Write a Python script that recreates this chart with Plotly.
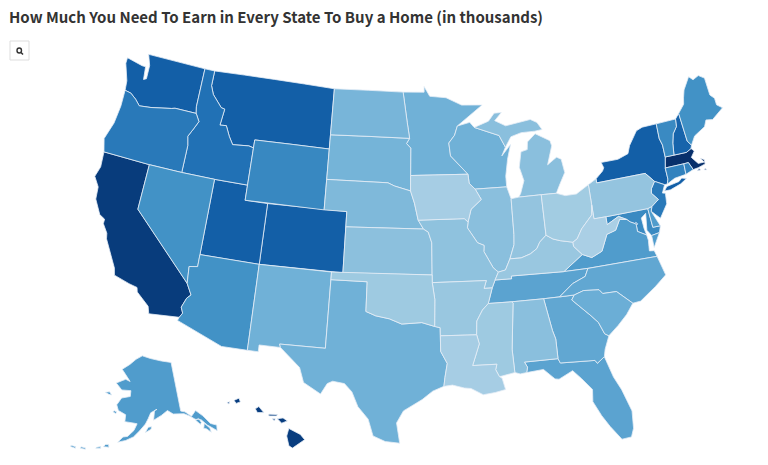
import plotly.graph_objects as go

title_text = "<b>How Much You Need To Earn in Every State To Buy a Home (in thousands)</b>"

# estimated from the fill colours of the picture
states = ["MA", "CA", "HI", "WA", "MT", "NY", "CO", "UT", "NH", "ID", "OR", "NJ", "CT", "RI", "DC",
          "WY", "VT", "MD", "NV", "AZ", "ME", "VA", "AK", "DE", "TN", "FL", "GA", "NC", "SC", "NM",
          "TX", "MN", "WI", "SD", "ND", "NE", "MI", "IL", "AL", "KS", "MO", "PA", "IN", "KY", "AR",
          "MS", "OK", "OH", "LA", "IA", "WV"]
income = [180, 173, 172, 151, 151, 151, 151, 151, 148, 140, 135, 135, 130, 130, 130,
          126, 125, 125, 120, 120, 120, 113, 113, 113, 108, 108, 105, 105, 100, 98,
          98, 98, 98, 96, 95, 92, 88, 88, 88, 87, 86, 84, 84, 82, 82,
          80, 80, 78, 76, 76, 74]

# simplified state outlines, lon/lat rings. plotly's usa topojson comes from a cdn
# and there is no network here, so the map has to bring its own geometry
outlines = {
    "WA": [[(-124.7,48.38),(-123.1,48.15),(-122.75,48.15),(-122.6,47.3),(-122.35,47.4),(-122.4,48.3),(-122.8,49),(-117.04,49),(-117.04,46.42),(-116.92,45.99),(-118.98,46),(-119.3,45.93),(-121.2,45.65),(-122.3,45.55),(-122.8,45.9),(-123.4,46.2),(-124,46.27),(-124.1,46.9),(-124.7,48)]],
    "OR": [[(-124,46.27),(-123.4,46.2),(-122.8,45.9),(-122.3,45.55),(-121.2,45.65),(-119.3,45.93),(-118.98,46),(-116.92,45.99),(-116.5,45.5),(-116.85,44.95),(-117.22,44.4),(-117.03,43.8),(-117.03,42),(-120,42),(-124.21,42),(-124.55,42.84),(-124.1,44),(-123.95,45.2)]],
    "CA": [[(-124.21,42),(-120,42),(-120,39),(-114.63,35),(-114.14,34.3),(-114.43,34.05),(-114.72,33.4),(-114.52,33.03),(-114.72,32.72),(-117.12,32.53),(-117.3,33),(-118.4,33.75),(-118.5,34.03),(-119.2,34.15),(-120.5,34.45),(-120.65,34.9),(-121.9,36.6),(-122,36.96),(-122.5,37.5),(-122.5,37.8),(-123,38),(-123.7,38.9),(-123.8,39.7),(-124.35,40.3),(-124.1,41)]],
    "NV": [[(-120,42),(-117.03,42),(-114.04,42),(-114.05,36.2),(-114.74,36.1),(-114.63,35),(-120,39)]],
    "ID": [[(-117.04,49),(-116.05,49),(-116.05,48),(-115.7,47.45),(-114.7,46.7),(-114.35,46.65),(-114.5,45.56),(-113.9,45.6),(-113.45,44.95),(-113,44.45),(-111.5,44.55),(-111.05,44.47),(-111.05,42),(-114.04,42),(-117.03,42),(-117.03,43.8),(-117.22,44.4),(-116.85,44.95),(-116.5,45.5),(-116.92,45.99),(-117.04,46.42)]],
    "MT": [[(-116.05,49),(-104.05,49),(-104.05,45),(-111.05,45),(-111.05,44.47),(-111.5,44.55),(-113,44.45),(-113.45,44.95),(-113.9,45.6),(-114.5,45.56),(-114.35,46.65),(-114.7,46.7),(-115.7,47.45),(-116.05,48)]],
    "WY": [[(-111.05,45),(-104.05,45),(-104.05,41),(-111.05,41)]],
    "UT": [[(-114.04,42),(-111.05,42),(-111.05,41),(-109.05,41),(-109.05,37),(-114.05,37)]],
    "CO": [[(-109.05,41),(-102.05,41),(-102.05,37),(-109.05,37)]],
    "AZ": [[(-114.05,37),(-109.05,37),(-109.05,31.33),(-111.07,31.33),(-114.81,32.5),(-114.72,32.72),(-114.52,33.03),(-114.72,33.4),(-114.43,34.05),(-114.14,34.3),(-114.63,35),(-114.74,36.1),(-114.05,36.2)]],
    "NM": [[(-109.05,37),(-103,37),(-103.04,32),(-106.62,32),(-106.53,31.78),(-108.2,31.78),(-108.2,31.33),(-109.05,31.33)]],
    "ND": [[(-104.05,49),(-97.23,49),(-96.8,47),(-96.56,45.94),(-104.05,45.94)]],
    "SD": [[(-104.05,45.94),(-96.56,45.94),(-96.85,45.6),(-96.45,45.3),(-96.45,43.5),(-96.45,42.49),(-97.9,42.8),(-98.5,43),(-104.05,43)]],
    "NE": [[(-104.05,43),(-98.5,43),(-97.9,42.8),(-96.45,42.49),(-96.1,41.7),(-95.77,40.58),(-95.31,40),(-102.05,40),(-102.05,41),(-104.05,41)]],
    "KS": [[(-102.05,40),(-95.31,40),(-94.9,39.8),(-94.61,39.1),(-94.62,37),(-102.05,37)]],
    "OK": [[(-103,37),(-94.62,37),(-94.62,36.5),(-94.43,35.4),(-94.48,33.64),(-95.5,33.9),(-97.1,33.8),(-98.1,34.13),(-99.2,34.3),(-100,34.56),(-100,36.5),(-103,36.5)]],
    "TX": [[(-106.62,32),(-103.04,32),(-103,36.5),(-100,36.5),(-100,34.56),(-99.2,34.3),(-98.1,34.13),(-97.1,33.8),(-95.5,33.9),(-94.48,33.64),(-94.04,33.55),(-94.04,33.02),(-94.04,32),(-93.55,31.2),(-93.75,30.3),(-93.85,29.7),(-94.7,29.4),(-95.5,28.85),(-96.9,28.1),(-97.4,27.3),(-97.15,25.96),(-98.2,26.05),(-99.1,26.4),(-99.5,27.5),(-100.3,28.3),(-100.8,29.25),(-101.4,29.77),(-102.3,29.88),(-102.7,29.7),(-103.15,28.98),(-104.5,29.65),(-104.9,30.6),(-106.53,31.78)]],
    "MN": [[(-97.23,49),(-95.15,49),(-95.15,49.38),(-94.6,48.72),(-93,48.6),(-91.5,48.07),(-89.5,48),(-92,46.7),(-92.3,46.1),(-92.87,45.6),(-92.75,44.75),(-91.22,43.5),(-96.45,43.5),(-96.45,45.3),(-96.85,45.6),(-96.56,45.94),(-96.8,47)]],
    "IA": [[(-96.45,43.5),(-91.22,43.5),(-91.15,42.9),(-90.64,42.5),(-90.15,41.8),(-91.1,41.2),(-91.42,40.38),(-91.73,40.61),(-95.77,40.58),(-96.1,41.7),(-96.45,42.49)]],
    "MO": [[(-95.77,40.58),(-91.73,40.61),(-91.42,40.38),(-91.5,40),(-90.7,39),(-90.15,38.8),(-90.2,38.4),(-89.5,37.3),(-89.1,37),(-89.42,36.5),(-89.7,36),(-90.37,36),(-90.15,36.5),(-94.62,36.5),(-94.62,37),(-94.61,39.1),(-94.9,39.8),(-95.31,40)]],
    "AR": [[(-94.62,36.5),(-90.15,36.5),(-90.37,36),(-89.7,36),(-90.1,35),(-90.6,34.6),(-91.1,33.9),(-91.17,33),(-94.04,33.02),(-94.04,33.55),(-94.48,33.64),(-94.43,35.4)]],
    "LA": [[(-94.04,33.02),(-91.17,33),(-91,32.4),(-91.6,31),(-89.73,31),(-89.85,30.65),(-89.6,30.18),(-89.4,30.05),(-89.2,29.3),(-90,29.15),(-90.9,29.05),(-91.8,29.5),(-92.3,29.55),(-93.2,29.77),(-93.85,29.7),(-93.75,30.3),(-93.55,31.2),(-94.04,32)]],
    "MS": [[(-90.1,35),(-88.2,35),(-88.1,34.9),(-88.47,31.9),(-88.4,30.37),(-89.4,30.2),(-89.6,30.18),(-89.85,30.65),(-89.73,31),(-91.6,31),(-91,32.4),(-91.17,33),(-91.1,33.9),(-90.6,34.6)]],
    "AL": [[(-88.2,35),(-85.6,35),(-85.18,32.87),(-85,32.3),(-85,31),(-87.6,31),(-87.4,30.65),(-87.5,30.3),(-88,30.25),(-88.4,30.37),(-88.47,31.9),(-88.1,34.9)]],
    "TN": [[(-89.7,36),(-89.42,36.5),(-88.05,36.5),(-88.05,36.68),(-83.68,36.6),(-81.68,36.59),(-82,36.1),(-83.1,35.75),(-84.3,35),(-85.6,35),(-88.2,35),(-90.1,35)]],
    "KY": [[(-89.42,36.5),(-89.1,37),(-88.5,37.1),(-88.05,37.8),(-87.1,37.8),(-86.3,38),(-85.7,38.3),(-85.4,38.7),(-84.8,39.1),(-84.25,38.8),(-83.65,38.63),(-82.6,38.42),(-82.6,38.15),(-81.97,37.54),(-83.68,36.6),(-88.05,36.68),(-88.05,36.5)]],
    "IL": [[(-90.64,42.5),(-87.8,42.5),(-87.5,41.7),(-87.53,39.35),(-87.6,38.7),(-88.05,37.8),(-88.5,37.1),(-89.1,37),(-89.5,37.3),(-90.2,38.4),(-90.15,38.8),(-90.7,39),(-91.5,40),(-91.42,40.38),(-91.1,41.2),(-90.15,41.8)]],
    "IN": [[(-87.5,41.7),(-86.8,41.76),(-84.8,41.76),(-84.8,39.1),(-85.4,38.7),(-85.7,38.3),(-86.3,38),(-87.1,37.8),(-88.05,37.8),(-87.6,38.7),(-87.53,39.35)]],
    "OH": [[(-84.8,41.76),(-83.45,41.73),(-82.7,41.5),(-81.7,41.5),(-80.52,41.98),(-80.52,40.64),(-80.65,40),(-81.7,39.2),(-82.2,38.6),(-82.6,38.42),(-83.65,38.63),(-84.25,38.8),(-84.8,39.1)]],
    "WI": [[(-92,46.7),(-90.8,46.9),(-90.4,46.55),(-88.1,45.9),(-87.6,45.1),(-88,44.55),(-87.1,45.25),(-87.5,44.3),(-87.8,43.2),(-87.8,42.5),(-90.64,42.5),(-91.15,42.9),(-91.22,43.5),(-92.75,44.75),(-92.87,45.6),(-92.3,46.1)]],
    "MI": [[(-86.8,41.76),(-84.8,41.76),(-83.45,41.73),(-83.1,42.2),(-82.45,43),(-82.6,43.9),(-83,44.07),(-83.9,43.65),(-83.3,44.85),(-83.4,45.2),(-84.7,45.78),(-85.5,45.3),(-85.6,44.8),(-86.2,44.7),(-86.5,43.7),(-86.2,42.8),(-86.6,42)],
           [(-90.4,46.55),(-89,46.9),(-88.4,47.4),(-87.7,47.4),(-88.4,46.9),(-87.4,46.5),(-85,46.75),(-84.4,46.5),(-84,46),(-84.7,45.95),(-86,45.95),(-87,45.75),(-87.6,45.1),(-88.1,45.9)]],
    "PA": [[(-80.52,41.98),(-79.76,42.27),(-79.76,42),(-75.35,42),(-74.7,41.36),(-75.1,40.95),(-75.2,40.65),(-74.72,40.15),(-75.4,39.8),(-75.79,39.72),(-79.48,39.72),(-80.52,39.72),(-80.52,40.64)]],
    "NY": [[(-79.76,42.27),(-79.06,42.7),(-78.9,42.9),(-79.05,43.27),(-77.5,43.27),(-76.5,43.5),(-76.2,44),(-75.3,44.85),(-74.7,45),(-73.35,45),(-73.4,44),(-73.25,43.55),(-73.27,42.75),(-73.5,42.05),(-73.5,41.3),(-73.65,41),(-73.9,41),(-74.7,41.36),(-75.35,42),(-79.76,42)],
           [(-74.03,40.6),(-73.75,40.85),(-72.6,40.98),(-72.3,41.15),(-71.9,41.05),(-72.5,40.8),(-73.5,40.58)]],
    "VT": [[(-73.35,45),(-71.5,45),(-71.6,44.5),(-72.05,44.1),(-72.3,43.5),(-72.46,42.73),(-73.27,42.75),(-73.25,43.55),(-73.4,44)]],
    "NH": [[(-71.5,45),(-71.08,45.3),(-70.98,43.4),(-70.7,43.07),(-70.82,42.87),(-71.3,42.7),(-72.46,42.73),(-72.3,43.5),(-72.05,44.1),(-71.6,44.5)]],
    "ME": [[(-71.08,45.3),(-70.4,45.8),(-70.25,46.2),(-70,46.7),(-69.23,47.46),(-68.9,47.18),(-68.3,47.35),(-67.8,47.07),(-67.78,45.9),(-67.45,45.6),(-67.45,45.15),(-67,44.85),(-68.2,44.3),(-68.8,44.4),(-69.1,44),(-70.2,43.6),(-70.7,43.07),(-70.98,43.4)]],
    "MA": [[(-73.5,42.05),(-73.27,42.75),(-72.46,42.73),(-71.3,42.7),(-70.82,42.87),(-70.6,42.65),(-71,42.3),(-70.55,41.8),(-70,41.78),(-70.25,42.07),(-69.95,41.95),(-69.97,41.65),(-70.65,41.53),(-71.12,41.5),(-71.38,42.02),(-71.8,42.02)],
           [(-70.8,41.36),(-70.5,41.35),(-70.6,41.47)],
           [(-70.2,41.3),(-69.97,41.25),(-70.05,41.38)]],
    "CT": [[(-73.5,42.05),(-71.8,42.02),(-71.85,41.32),(-72.9,41.25),(-73.65,41),(-73.5,41.3)]],
    "RI": [[(-71.8,42.02),(-71.38,42.02),(-71.12,41.5),(-71.85,41.32)]],
    "NJ": [[(-74.7,41.36),(-73.9,41),(-74.25,40.5),(-74,40.45),(-74.1,39.75),(-74.9,38.93),(-75.55,39.5),(-75.4,39.8),(-74.72,40.15),(-75.2,40.65),(-75.1,40.95)]],
    "DE": [[(-75.79,39.72),(-75.4,39.8),(-75.55,39.5),(-75.05,38.45),(-75.7,38.46)]],
    "MD": [[(-79.48,39.72),(-75.79,39.72),(-75.7,38.46),(-75.05,38.45),(-75.25,38.03),(-75.95,37.95),(-76.25,38.35),(-76.05,39.45),(-76.5,39.2),(-76.45,38.5),(-76.35,38.05),(-77.05,38.4),(-77.04,38.79),(-76.91,38.89),(-77.04,39),(-77.12,38.93),(-77.5,39.1),(-77.75,39.3),(-78.4,39.6),(-79.48,39.2)]],
    "DC": [[(-77.12,38.93),(-77.04,39),(-76.91,38.89),(-77.04,38.79),(-77.05,38.85)]],
    "VA": [[(-83.68,36.6),(-81.68,36.59),(-75.87,36.55),(-76,36.95),(-76.4,37),(-76.3,37.7),(-76.35,38.05),(-77.05,38.4),(-77.04,38.79),(-77.05,38.85),(-77.12,38.93),(-77.5,39.1),(-77.75,39.3),(-78.35,39.4),(-78.85,38.75),(-79.65,38.58),(-80.3,37.55),(-81.22,37.25),(-81.97,37.54)],
           [(-75.25,38.03),(-75.95,37.95),(-75.95,37.15),(-75.6,37.6)]],
    "WV": [[(-80.52,40.64),(-80.52,39.72),(-79.48,39.72),(-79.48,39.2),(-78.4,39.6),(-77.75,39.3),(-78.35,39.4),(-78.85,38.75),(-79.65,38.58),(-80.3,37.55),(-81.22,37.25),(-81.97,37.54),(-82.6,38.15),(-82.6,38.42),(-82.2,38.6),(-81.7,39.2),(-80.65,40)]],
    "NC": [[(-81.68,36.59),(-75.87,36.55),(-75.5,35.25),(-76.5,34.65),(-77.9,33.9),(-78.55,33.86),(-79.68,34.8),(-80.8,34.82),(-81.05,35.1),(-82.3,35.2),(-83.1,35),(-84.3,35),(-83.1,35.75),(-82,36.1)]],
    "SC": [[(-83.1,35),(-82.3,35.2),(-81.05,35.1),(-80.8,34.82),(-79.68,34.8),(-78.55,33.86),(-79.2,33.2),(-80,32.6),(-80.85,32.03),(-81.15,32.2),(-81.5,33),(-82,33.5),(-83.35,34.7)]],
    "GA": [[(-85.6,35),(-84.3,35),(-83.1,35),(-83.35,34.7),(-82,33.5),(-81.5,33),(-81.15,32.2),(-80.85,32.03),(-81.3,31.2),(-81.45,30.72),(-82.05,30.36),(-82.2,30.57),(-84.86,30.7),(-85,31),(-85,32.3),(-85.18,32.87)]],
    "FL": [[(-87.6,31),(-85,31),(-84.86,30.7),(-82.2,30.57),(-82.05,30.36),(-81.45,30.72),(-81,29.3),(-80.55,28.4),(-80.05,26.9),(-80.15,25.75),(-80.4,25.2),(-81.1,25.15),(-81.8,26.1),(-82.3,26.9),(-82.8,27.9),(-82.7,28.7),(-83.4,29.5),(-84,30.1),(-85.1,29.65),(-85.4,29.7),(-86.2,30.4),(-87.5,30.3),(-87.4,30.65)]],
    "AK": [[(-141,69.65),(-141,60.3),(-139.5,60),(-137.5,58.9),(-135.5,59.75),(-133.5,58.4),(-131.8,56.6),(-130,55.9),(-130.5,54.9),(-131.5,55.6),(-133,56.5),(-134.5,57.8),(-136.5,58.2),(-138,59),(-140,59.7),(-144,60),(-146,60.8),(-148.5,60),(-151.5,59.2),(-151,61),(-150,61.2),(-152.5,60.6),(-153.5,59.5),(-154.5,58.5),(-156.5,57.2),(-158.5,56),(-161,55.2),(-163.5,54.7),(-162,55.8),(-160.5,56),(-158.5,57.2),(-157.5,58.5),(-159,58.6),(-162,58.7),(-162,60),(-165,60.6),(-166,61.6),(-164.5,63),(-161,63.5),(-161,64.6),(-165,64.5),(-168,65.6),(-164,66.6),(-161.8,66.3),(-163.5,67.1),(-166.5,68.35),(-163,69.5),(-160,70.6),(-156.6,71.35),(-152,70.85),(-146,70.2)],
           [(-154.5,56.9),(-152.5,57.5),(-152.3,58),(-153.5,57.9)],
           [(-167,60.2),(-165.7,59.9),(-165.6,60.3),(-166.5,60.4)],
           [(-171.7,63.4),(-170,63.7),(-168.8,63.2),(-170,63.2)],
           [(-134.5,56.1),(-133.7,55.9),(-132.5,55),(-132.5,55.8),(-133.8,57)],
           [(-136.4,58),(-135.2,57),(-134.7,57.3),(-135.2,58.2)],
           [(-167.8,53.4),(-166,53.5),(-166.3,54),(-167.2,53.9)],
           [(-170,52.8),(-168.5,53),(-168.6,53.3),(-169.8,53)],
           [(-174.5,52),(-173,52.1),(-173,52.35),(-174.5,52.3)],
           [(-177.5,51.7),(-176,51.7),(-176,52),(-177.5,51.95)]],
    "HI": [[(-155.9,20.25),(-155.1,19.85),(-154.8,19.5),(-155.65,18.95),(-155.9,19.1),(-156.05,19.75)],
           [(-156.7,20.9),(-156.3,20.95),(-156,20.75),(-156.4,20.6)],
           [(-157.3,21.2),(-156.7,21.17),(-156.75,21.08),(-157.3,21.08)],
           [(-157.05,20.9),(-156.85,20.9),(-156.9,20.75)],
           [(-158.25,21.55),(-158,21.7),(-157.65,21.3),(-158.1,21.3)],
           [(-159.75,22.1),(-159.4,22.25),(-159.3,22),(-159.6,21.9)],
           [(-160.25,21.95),(-160.05,22),(-160.1,21.85)]],
}

# d3 wants the outer rings clockwise
def clockwise(ring):
    area = sum(a[0] * b[1] - b[0] * a[1] for a, b in zip(ring, ring[1:] + ring[:1]))
    ring = ring[::-1] if area > 0 else ring
    return [list(p) for p in ring + ring[:1]]

features = []
for code, rings in outlines.items():
    features.append({"type": "Feature", "id": code,
                     "geometry": {"type": "MultiPolygon", "coordinates": [[clockwise(r)] for r in rings]}})
geojson = {"type": "FeatureCollection", "features": features}

# the plot runs past the window on purpose, the map needs the room
W, H = 800, 500
BODY = 8  # page margin around the plot

def px(x):
    return (x - BODY) / W

def py(y):
    return 1 - (y - BODY) / H

fig = go.Figure()
# first trace has no locationmode, otherwise plotly goes off to fetch its topojson
fig.add_trace(go.Scattergeo(lon=[-100], lat=[40], mode="markers", marker=dict(size=1, opacity=0),
                            hoverinfo="skip", showlegend=False))
fig.add_trace(go.Choropleth(geojson=geojson, locations=states, z=income, locationmode="geojson-id",
                            colorscale="Blues", zmin=20, zmax=180, showscale=False,
                            marker_line_color="#e6eef6", marker_line_width=0.8))
fig.update_layout(title=dict(text=title_text, x=px(9), xanchor="left", y=py(18), yanchor="middle",
                             font=dict(family="Noto Sans CJK SC", size=15, color="#333333")),
                  width=W, height=H, margin=dict(l=0, r=0, t=0, b=0), paper_bgcolor="white",
                  geo=dict(scope="usa", projection_type="albers usa", projection_scale=1.026, bgcolor="white",
                           domain=dict(x=[px(22.5), px(794.5)], y=[py(485), py(13)]),
                           showland=False, showlakes=False, showocean=False, showrivers=False,
                           showcountries=False, showcoastlines=False, showsubunits=False, showframe=False))

# zoom button, top left
fig.add_shape(type="rect", xref="paper", yref="paper", x0=px(10), x1=px(29), y0=py(60), y1=py(41),
              line=dict(color="#dddddd", width=1), fillcolor="white")
fig.add_shape(type="circle", xref="paper", yref="paper", x0=px(17), x1=px(21.5), y0=py(53), y1=py(48),
              line=dict(color="#333333", width=1.4))
fig.add_shape(type="line", xref="paper", yref="paper", x0=px(21), x1=px(23), y0=py(52.5), y1=py(54.5),
              line=dict(color="#333333", width=1.6))

fig.write_html("out.html")
